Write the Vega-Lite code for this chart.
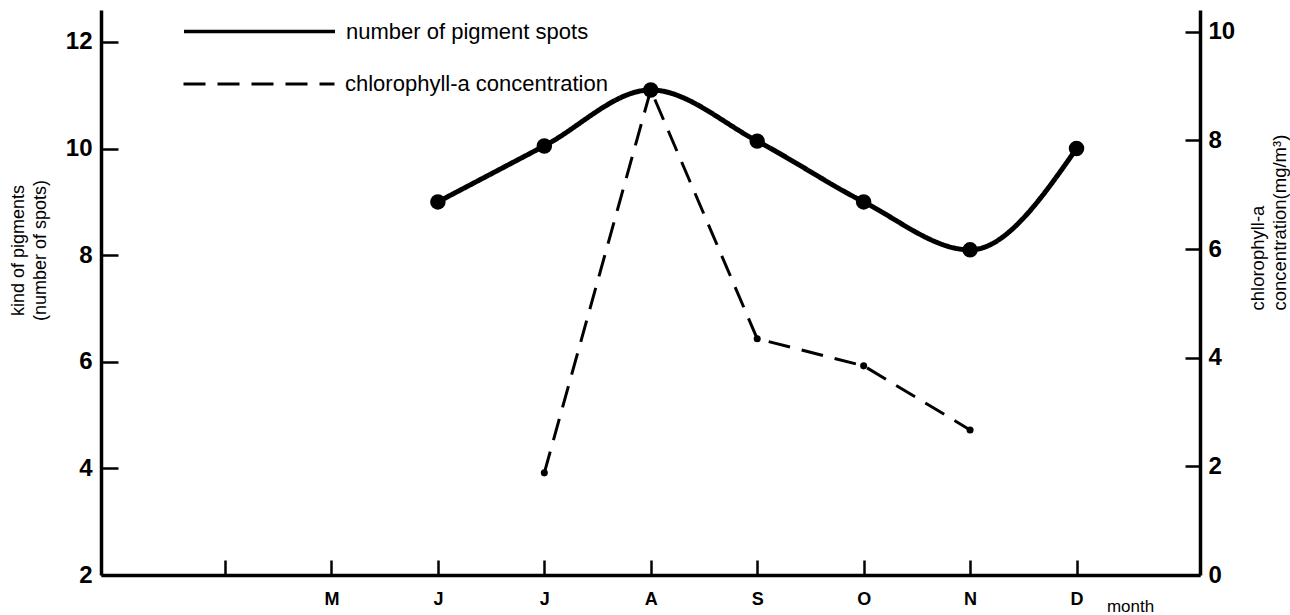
{
  "$schema": "https://vega.github.io/schema/vega-lite/v6.json",
  "width": 1099,
  "height": 565,
  "autosize": "none",
  "padding": {"left": 101, "top": 10, "right": 90, "bottom": 40},
  "background": "white",
  "config": {
    "view": {"stroke": null},
    "font": "Liberation Sans",
    "axis": {"grid": false, "domainColor": "black", "tickColor": "black", "labelColor": "black", "titleColor": "black"},
    "legend": {"title": null, "orient": "none", "symbolType": "stroke", "symbolSize": 22800, "symbolStrokeWidth": 3.5,
      "symbolStrokeColor": "black", "labelFontSize": 22, "labelOffset": 9, "labelLimit": 500,
      "labelColor": "black", "padding": 0}
  },
  "datasets": {
    "pigments": [
      {"month": 6, "series": "number of pigment spots", "value": 9.0},
      {"month": 7, "series": "number of pigment spots", "value": 10.05},
      {"month": 8, "series": "number of pigment spots", "value": 11.1},
      {"month": 9, "series": "number of pigment spots", "value": 10.14},
      {"month": 10, "series": "number of pigment spots", "value": 9.0},
      {"month": 11, "series": "number of pigment spots", "value": 8.1},
      {"month": 12, "series": "number of pigment spots", "value": 10.0}
    ],
    "chlorophyll": [
      {"month": 7, "label": "chlorophyll-a concentration", "value": 1.88},
      {"month": 8, "label": "chlorophyll-a concentration", "value": 8.93},
      {"month": 9, "label": "chlorophyll-a concentration", "value": 4.35},
      {"month": 10, "label": "chlorophyll-a concentration", "value": 3.85},
      {"month": 11, "label": "chlorophyll-a concentration", "value": 2.67}
    ]
  },
  "encoding": {
    "x": {
      "field": "month", "type": "quantitative",
      "scale": {"domain": [2.835, 13.16], "nice": false, "zero": false},
      "axis": {
        "values": [4, 5, 6, 7, 8, 9, 10, 11, 12],
        "labelExpr": "['','','','','','M','J','J','A','S','O','N','D'][datum.value]",
        "tickSize": -15, "tickWidth": 2.5, "domainWidth": 3.5,
        "labelPadding": 30, "labelFontSize": 18, "labelFontWeight": "bold",
        "labelFont": "Liberation Sans",
        "title": "month", "titleFontSize": 17, "titleFontWeight": "normal",
        "titleX": 1029, "titleY": 36, "titleAlign": "center", "titleBaseline": "alphabetic"
      }
    }
  },
  "layer": [
    {
      "data": {"name": "pigments"},
      "encoding": {
        "y": {
          "field": "value", "type": "quantitative",
          "scale": {"domain": [2, 12.6], "nice": false, "zero": false},
          "axis": {
            "orient": "left", "values": [2, 4, 6, 8, 10, 12],
            "tickSize": -17, "tickWidth": 2.5, "domainWidth": 3.5,
            "labelPadding": 26, "labelFontSize": 24, "labelFontWeight": "bold",
            "labelFont": "Liberation Sans",
            "title": ["kind of pigments", "(number of spots)"],
            "titleFontSize": 18, "titleFontWeight": "normal", "titleLineHeight": 22,
            "titleAngle": -90, "titleX": -92, "titleY": 240,
            "titleAlign": "center", "titleBaseline": "top"
          }
        }
      },
      "layer": [
        {
          "mark": {"type": "line", "interpolate": "monotone", "color": "black", "strokeWidth": 5},
          "encoding": {
            "strokeDash": {
              "field": "series", "type": "nominal",
              "scale": {"domain": ["number of pigment spots"], "range": [[1, 0]]},
              "legend": {"legendX": 81, "legendY": -56}
            }
          }
        },
        {
          "mark": {"type": "point", "filled": true, "color": "black", "opacity": 1, "size": 240}
        }
      ]
    },
    {
      "data": {"name": "chlorophyll"},
      "encoding": {
        "y": {
          "field": "value", "type": "quantitative",
          "scale": {"domain": [0, 10.4], "nice": false, "zero": false},
          "axis": {
            "orient": "right", "values": [0, 2, 4, 6, 8, 10],
            "tickSize": -15, "tickWidth": 2.5, "domainWidth": 3.5,
            "labelPadding": 23, "labelFontSize": 24, "labelFontWeight": "bold",
            "labelFont": "Liberation Sans",
            "title": ["chlorophyll-a", "concentration(mg/m³)"],
            "titleFontSize": 18.5, "titleFontWeight": "normal", "titleLineHeight": 22,
            "titleAngle": -90, "titleX": 48, "titleY": 300,
            "titleAlign": "left", "titleBaseline": "top"
          }
        }
      },
      "layer": [
        {
          "mark": {"type": "line", "strokeWidth": 3, "strokeDash": [22, 12]},
          "encoding": {
            "color": {
              "field": "label", "type": "nominal",
              "scale": {"domain": ["chlorophyll-a concentration"], "range": ["black"]},
              "legend": {"legendX": 81, "legendY": -3, "symbolDash": [22, 12], "symbolStrokeWidth": 3}
            }
          }
        },
        {
          "mark": {"type": "point", "filled": true, "color": "black", "opacity": 1, "size": 50}
        }
      ]
    }
  ],
  "resolve": {"scale": {"y": "independent"}}
}
